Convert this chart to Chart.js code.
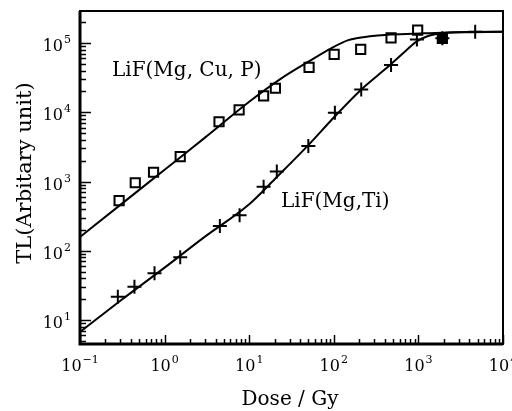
<!DOCTYPE html>
<html>
<head>
<meta charset="UTF-8">
<script src="https://cdn.jsdelivr.net/npm/chart.js@4.4.0/dist/chart.umd.min.js"></script>
<style>
  html, body { margin: 0; padding: 0; background: #fff; }
  #wrap { width: 512px; height: 411px; }
</style>
</head>
<body>
<div id="wrap"><canvas id="tlChart" width="512" height="411"></canvas></div>
<script>
// LiF(Mg, Cu, P) measured points
const cuDose = [0.29, 0.45, 0.74, 1.53, 4.4, 7.6, 14.8, 20.4, 51, 101, 208, 475, 980, 1920];
const cuTL = [530, 960, 1360, 2280, 7300, 10800, 17200, 22200, 44600, 68700, 81100, 119000, 154000, 117000];

// LiF(Mg,Ti) measured points
const tiDose = [0.28, 0.44, 0.76, 1.53, 4.5, 7.7, 14.8, 21.2, 50, 103, 211, 475, 960, 1920, 4690];
const tiTL = [21.7, 30.3, 47.2, 80.4, 228, 325, 841, 1390, 3260, 9860, 21400, 48100, 112000, 117000, 146000];

// fitted curves
const cuFitDose = [0.1, 0.3, 1, 3, 10, 24, 50, 93, 148, 193, 330, 470, 1180, 2900, 10000];
const cuFitTL = [158, 460, 1480, 4300, 14200, 30900, 53700, 83800, 110000, 118000, 128000, 133000, 138000, 143000, 145000];
const tiFitDose = [0.1, 0.3, 1, 3, 10, 20, 50, 100, 200, 330, 470, 700, 930, 1300, 2000, 3000, 10000];
const tiFitTL = [6.7, 19, 57, 160, 470, 1080, 3350, 8400, 20000, 34000, 49000, 76000, 103000, 126000, 139000, 143500, 145000];

// axes
const xRange = [0.1, 10000];
const yRange = [4.5, 290000];
const xMajorTicks = [0.1, 1, 10, 100, 1000, 10000];
const xTickExp = ["\u22121", "0", "1", "2", "3", "4"];
const yMajorTicks = [10, 100, 1000, 10000, 100000];
const yTickExp = ["1", "2", "3", "4", "5"];

const SERIF = '"DejaVu Serif", "Liberation Serif", serif';

function toPoints(xs, ys) {
  return xs.map((x, i) => ({ x: x, y: ys[i] }));
}

// "10" with a raised exponent
function drawPow(ctx, exp, x, y, align) {
  ctx.font = "16px " + SERIF;
  const wBase = ctx.measureText("10").width;
  ctx.font = "11px " + SERIF;
  const wExp = ctx.measureText(exp).width;
  const total = wBase + 1 + wExp;
  let left = x;
  if (align === "center") left = x - total / 2;
  if (align === "right") left = x - total;
  ctx.textAlign = "left";
  ctx.textBaseline = "alphabetic";
  ctx.font = "16px " + SERIF;
  ctx.fillText("10", left, y);
  ctx.font = "11px " + SERIF;
  ctx.fillText(exp, left + wBase + 1, y - 8);
}

// frame, inward ticks and texts
const framePlugin = {
  id: "frame",
  afterDraw(chart) {
    const ctx = chart.ctx;
    const a = chart.chartArea;
    const xs = chart.scales.x;
    const ys = chart.scales.y;
    ctx.save();
    ctx.strokeStyle = "#000";
    ctx.fillStyle = "#000";

    // box
    ctx.lineWidth = 2;
    ctx.strokeRect(a.left, a.top, a.right - a.left, a.bottom - a.top);
    ctx.lineWidth = 3;
    ctx.beginPath();
    ctx.moveTo(a.left, a.top);
    ctx.lineTo(a.left, a.bottom);
    ctx.lineTo(a.right, a.bottom);
    ctx.stroke();

    // x ticks
    ctx.lineWidth = 1.5;
    xMajorTicks.forEach((major) => {
      for (let m = 1; m <= 9; m++) {
        const v = major * m;
        if (v > xRange[1] * 1.001) break;
        const px = Math.round(xs.getPixelForValue(v)) + 0.5;
        const len = m === 1 ? 9 : 5;
        ctx.beginPath();
        ctx.moveTo(px, a.bottom);
        ctx.lineTo(px, a.bottom - len);
        ctx.stroke();
      }
    });

    // y ticks
    [1, 10, 100, 1000, 10000, 100000].forEach((major) => {
      for (let m = 1; m <= 9; m++) {
        const v = major * m;
        if (v < yRange[0] || v > yRange[1]) continue;
        const py = Math.round(ys.getPixelForValue(v)) + 0.5;
        const len = m === 1 ? 11 : 6;
        ctx.beginPath();
        ctx.moveTo(a.left, py);
        ctx.lineTo(a.left + len, py);
        ctx.stroke();
      }
    });

    // tick labels
    xMajorTicks.forEach((v, i) => {
      drawPow(ctx, xTickExp[i], xs.getPixelForValue(v), 371, "center");
    });
    yMajorTicks.forEach((v, i) => {
      drawPow(ctx, yTickExp[i], 71, ys.getPixelForValue(v) + 8, "right");
    });

    // axis titles
    ctx.font = "20px " + SERIF;
    ctx.textAlign = "center";
    ctx.textBaseline = "alphabetic";
    ctx.fillText("Dose / Gy", 290, 405);

    ctx.save();
    ctx.translate(31, 173);
    ctx.rotate(-Math.PI / 2);
    ctx.font = "21px " + SERIF;
    ctx.fillText("TL(Arbitary unit)", 0, 0);
    ctx.restore();

    // series labels
    ctx.font = "20px " + SERIF;
    ctx.textAlign = "left";
    ctx.fillText("LiF(Mg, Cu, P)", 112, 76);
    ctx.fillText("LiF(Mg,Ti)", 281, 207);

    ctx.restore();
  },
};

const ctx = document.getElementById("tlChart").getContext("2d");
const chart = new Chart(ctx, {
  type: "scatter",
  data: {
    datasets: [
      {
        label: "LiF(Mg, Cu, P) fit",
        data: toPoints(cuFitDose, cuFitTL),
        showLine: true,
        pointRadius: 0,
        borderColor: "#000",
        borderWidth: 2,
        cubicInterpolationMode: "monotone",
        fill: false,
      },
      {
        label: "LiF(Mg,Ti) fit",
        data: toPoints(tiFitDose, tiFitTL),
        showLine: true,
        pointRadius: 0,
        borderColor: "#000",
        borderWidth: 2,
        cubicInterpolationMode: "monotone",
        fill: false,
      },
      {
        label: "LiF(Mg, Cu, P)",
        data: toPoints(cuDose, cuTL),
        pointStyle: "rect",
        pointRadius: 6.5,
        borderWidth: 2,
        borderColor: "#000",
        backgroundColor: cuDose.map((d) => (d > 1500 ? "#000" : "#fff")),
      },
      {
        label: "LiF(Mg,Ti)",
        data: toPoints(tiDose, tiTL),
        pointStyle: "cross",
        pointRadius: 7,
        borderWidth: 2,
        borderColor: "#000",
      },
    ],
  },
  options: {
    responsive: false,
    animation: false,
    layout: { padding: { left: 80, right: 6, top: 11, bottom: 67 } },
    plugins: {
      legend: { display: false },
      tooltip: { enabled: false },
    },
    scales: {
      x: { type: "logarithmic", min: xRange[0], max: xRange[1], display: false },
      y: { type: "logarithmic", min: yRange[0], max: yRange[1], display: false },
    },
  },
  plugins: [framePlugin],
});
</script>
</body>
</html>
